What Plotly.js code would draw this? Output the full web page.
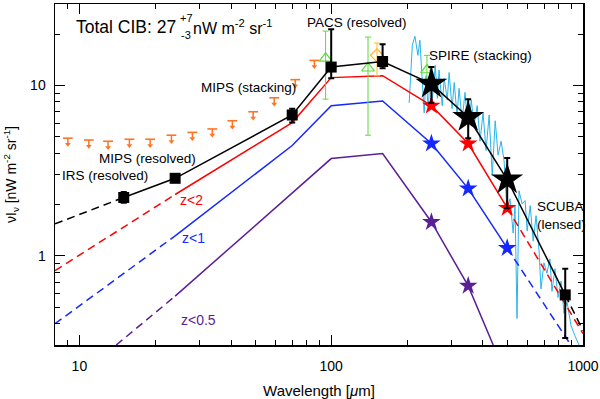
<!DOCTYPE html>
<html>
<head>
<meta charset="utf-8">
<script src="https://cdn.plot.ly/plotly-3.0.1.min.js"></script>
<style>
  body { margin: 0; }
  #chart { width: 600px; height: 399px; }
</style>
</head>
<body>
<div id="chart"></div>
<script>
// total CIB measurements (black)
var sqWave = [15, 24, 70, 100, 160, 850];
var sqFlux = [2.2, 2.85, 6.7, 12.8, 13.8, 0.59];
var sqErrUp = [0.17, 0.1, 0.6, 8.5, 3.6, 0.25];
var sqErrDn = [0.15, 0.1, 0.65, 1.8, 1.2, 0.26];

var starWave = [250, 350, 500];
var starFlux = [10.2, 6.5, 2.8];
var starErrUp = [2.6, 1.8, 0.95];
var starErrDn = [2.3, 1.6, 0.9];

var totalWave = [15, 24, 70, 100, 160, 250, 350, 500, 850];
var totalFlux = [2.2, 2.85, 6.7, 12.8, 13.8, 10.2, 6.5, 2.8, 0.59];
var totalLoWave = [8, 15], totalLoFlux = [1.54, 2.2];
var totalHiWave = [850, 1000], totalHiFlux = [0.59, 0.365];

// redshift-limited models
var modelWave = [24, 70, 100, 160, 250, 350, 500];
var z2Flux = [2.29, 6.05, 11.1, 11.4, 7.6, 4.56, 1.91];
var z2LoWave = [8, 24], z2LoFlux = [0.82, 2.29];
var z2HiWave = [500, 1000], z2HiFlux = [1.91, 0.35];

var z1Flux = [1.31, 4.44, 7.6, 8.1, 4.56, 2.48, 1.11];
var z1LoWave = [8, 24], z1LoFlux = [0.40, 1.31];
var z1HiWave = [500, 895], z1HiFlux = [1.11, 0.3];

var z05Wave = [24, 70, 100, 160, 250, 350, 440];
var z05Flux = [0.58, 2.35, 3.72, 3.98, 1.58, 0.667, 0.3];
var z05LoWave = [14, 24], z05LoFlux = [0.3, 0.58];
var z05StarWave = [250, 350], z05StarFlux = [1.58, 0.667];

// MIPS stacking upper limits
var limWave = [9, 10.9, 13, 15.8, 19.1, 23.2, 28.1, 33.7, 40.5, 49, 59.4, 72, 85.7];
var limFlux = [4.9, 4.78, 4.7, 4.83, 4.83, 5.1, 5.3, 5.55, 6.2, 7.0, 8.45, 10.8, 14.0];

// PACS / SPIRE points
var greenWave = [95, 140, 240];
var greenFlux = [14.4, 12.6, 12.3];
var greenErrUp = [6.4, 6.6, 2.7];
var greenErrDn = [6.1, 7.5, 1.5];
var goldWave = [152], goldFlux = [15], goldErrUp = [2.7], goldErrDn = [3.6];

// FIRAS-like spectrum
var cyanWave = [204, 210, 215, 221, 225, 230, 234, 238, 243, 247, 252, 259, 264, 268, 276, 281, 289, 294, 302, 308,
  316, 322, 331, 340, 350, 360, 369, 380, 390, 401, 412, 424, 436, 448, 460, 473, 486, 499, 513, 528,
  537, 547, 557, 573, 589, 600, 617, 634, 651, 669, 681, 700, 719, 739, 753, 774, 796, 818, 841, 864,
  896, 929, 964];
var cyanFlux = [7.9, 17.2, 19.4, 15.0, 18.4, 10, 6.9, 11.4, 7.1, 12.3, 8.2, 13.1, 8.4, 12.3, 7.6, 11.0, 8.2, 11.9, 7.3, 10.4,
  6.7, 9.6, 6.2, 9.1, 5.4, 8.2, 5.8, 7.6, 4.7, 6.9, 4.15, 6.7, 2.96, 6.2, 3.9, 4.7, 3.6, 1.84, 2.16, 1.36,
  1.97, 0.43, 2.41, 2.02, 2.11, 1.40, 1.97, 1.22, 1.72, 1.07, 0.64, 0.91, 0.79, 0.96, 0.62, 0.84, 0.57, 0.71, 0.46, 0.54,
  0.39, 0.34, 0.30];

var RED = 'rgb(255,0,0)', BLUE = 'rgb(20,40,255)', PURPLE = 'rgb(90,30,150)';
var CYAN = 'rgb(40,180,235)', GREEN = 'rgb(90,220,60)', ORANGE = 'rgb(255,115,35)', GOLD = 'rgb(255,185,30)';

function line(x, y, color, dash) {
    return {x: x, y: y, mode: 'lines', line: {color: color, width: 1.5, dash: dash || 'solid'}, hoverinfo: 'skip'};
}
function stars(x, y, color, size) {
    return {x: x, y: y, mode: 'markers', marker: {symbol: 'star', size: size, color: color}};
}

var traces = [
    {x: cyanWave, y: cyanFlux, mode: 'lines', line: {color: CYAN, width: 1}},
    line(z05Wave, z05Flux, PURPLE), line(z05LoWave, z05LoFlux, PURPLE, '8px,5px'),
    line(modelWave, z1Flux, BLUE), line(z1LoWave, z1LoFlux, BLUE, '8px,5px'), line(z1HiWave, z1HiFlux, BLUE, '8px,5px'),
    line(modelWave, z2Flux, RED), line(z2LoWave, z2LoFlux, RED, '8px,5px'), line(z2HiWave, z2HiFlux, RED, '8px,5px'),
    stars(z05StarWave, z05StarFlux, PURPLE, 14),
    stars(starWave, z1Flux.slice(4), BLUE, 14),
    stars(starWave, z2Flux.slice(4), RED, 14),
    // upper limit: bar at the value, short stem, arrowhead below
    {x: limWave, y: limFlux, mode: 'markers',
     marker: {symbol: 'line-ew-open', size: 7, color: ORANGE, line: {color: ORANGE, width: 1.6}},
     error_y: {type: 'percent', symmetric: false, value: 0, valueminus: 7, color: ORANGE, thickness: 1.5, width: 0}},
    {x: limWave, y: limFlux.map(function (v) { return v * 0.92; }), mode: 'markers',
     marker: {symbol: 'triangle-down', size: 5, color: ORANGE}},
    {x: greenWave, y: greenFlux, mode: 'markers',
     marker: {symbol: 'triangle-up-open', size: 11, color: GREEN, line: {width: 1.2}},
     error_y: {type: 'data', symmetric: false, array: greenErrUp, arrayminus: greenErrDn, color: GREEN, thickness: 1, width: 3}},
    {x: goldWave, y: goldFlux, mode: 'markers',
     marker: {symbol: 'diamond-open', size: 10, color: GOLD, line: {width: 1.2}},
     error_y: {type: 'data', symmetric: false, array: goldErrUp, arrayminus: goldErrDn, color: GOLD, thickness: 1, width: 3}},
    line(totalWave, totalFlux, 'black'), line(totalLoWave, totalLoFlux, 'black', '8px,5px'),
    line(totalHiWave, totalHiFlux, 'black', '8px,5px'),
    {x: sqWave, y: sqFlux, mode: 'markers', marker: {symbol: 'square', size: 11, color: 'black'},
     error_y: {type: 'data', symmetric: false, array: sqErrUp, arrayminus: sqErrDn, color: 'black', thickness: 2, width: 3}},
    {x: starWave, y: starFlux, mode: 'markers', marker: {symbol: 'star', size: 24, color: 'black'},
     error_y: {type: 'data', symmetric: false, array: starErrUp, arrayminus: starErrDn, color: 'black', thickness: 2, width: 3}}
];

function label(text, x, y, color, size, xanchor) {
    return {text: text, xref: 'paper', yref: 'paper', x: x, y: y, showarrow: false,
            xanchor: xanchor || 'center', yanchor: 'middle', align: 'left',
            font: {size: size || 13.5, color: color || 'black'}};
}

var axisBase = {
    type: 'log', showgrid: false, zeroline: false, showline: true, linecolor: 'black', linewidth: 1.5,
    mirror: 'ticks', ticks: 'inside', ticklen: 10, tickwidth: 1, tickcolor: 'black',
    tickfont: {size: 14, color: 'black'}
};

var layout = {
    width: 600, height: 399,
    margin: {l: 55, r: 17, t: 4, b: 54},
    paper_bgcolor: 'white', plot_bgcolor: 'white',
    showlegend: false,
    font: {family: 'Liberation Sans, Arial, sans-serif', color: 'black'},
    xaxis: Object.assign({}, axisBase, {
        range: [Math.log10(8), 3],
        tickvals: [10, 100, 1000], ticktext: ['10', '100', '1000'],
        ticklabelstandoff: 8,
        minor: {tickvals: [8, 9, 20, 30, 40, 50, 60, 70, 80, 90, 200, 300, 400, 500, 600, 700, 800, 900],
                ticks: 'inside', ticklen: 5, tickcolor: 'black', tickwidth: 1},
        title: {text: 'Wavelength [<i>μ</i>m]', font: {size: 15}, standoff: 13}
    }),
    yaxis: Object.assign({}, axisBase, {
        range: [Math.log10(0.3), Math.log10(30)],
        tickvals: [1, 10], ticktext: ['1', '10'],
        ticklabelstandoff: 5,
        minor: {tickvals: [0.3, 0.4, 0.5, 0.6, 0.7, 0.8, 0.9, 2, 3, 4, 5, 6, 7, 8, 9, 20, 30],
                ticks: 'inside', ticklen: 5, tickcolor: 'black', tickwidth: 1},
        title: {text: 'νI<sub>ν</sub> [nW m<sup>-2</sup> sr<sup>-1</sup>]', font: {size: 14}, standoff: 10}
    }),
    annotations: [
        label('Total CIB: 27', 0.2335, 0.9326, 'black', 17.5, 'right'),
        label('+7', 0.2335, 0.958, 'black', 11, 'left'),
        label('-3', 0.2355, 0.910, 'black', 11, 'left'),
        label('nW m<sup>-2</sup> sr<sup>-1</sup>', 0.2575, 0.9326, 'black', 16, 'left'),
        label('PACS (resolved)', 0.572, 0.9472),
        label('SPIRE (stacking)', 0.8068, 0.8504),
        label('MIPS (stacking)', 0.3665, 0.7537),
        label('MIPS (resolved)', 0.1752, 0.5455),
        label('IRS (resolved)', 0.0938, 0.4985),
        label('z<2', 0.2585, 0.4252, RED, 14),
        label('z<1', 0.2614, 0.3138, BLUE, 14),
        label('z<0.5', 0.2718, 0.0733, PURPLE, 14),
        label('SCUBA<br>(lensed)', 0.909, 0.381, 'black', 13.5, 'left')
    ]
};

Plotly.newPlot('chart', traces, layout, {staticPlot: true});
</script>
</body>
</html>
